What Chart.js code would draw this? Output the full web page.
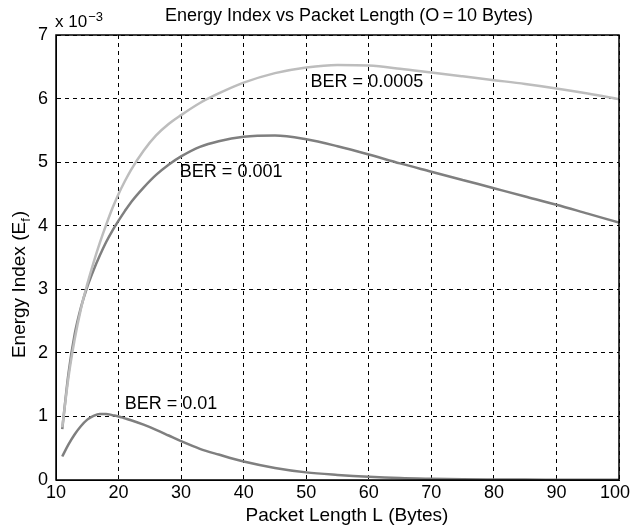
<!DOCTYPE html>
<html>
<head>
<meta charset="utf-8">
<script src="https://cdn.jsdelivr.net/npm/chart.js@4/dist/chart.umd.min.js"></script>
<style>
  html, body { margin: 0; padding: 0; background: #fff; }
  #wrap { width: 630px; height: 530px; }
</style>
</head>
<body>
<div id="wrap"><canvas id="energyChart"></canvas></div>
<script>
const lengths = [11,12,13,14,15,16,17,18,19,20,21,22,24,26,28,30,33,36,40,45,50,55,60,65,70,75,80,85,90,95,100];

// energy index values, in units of 1e-3
const ber0005 = [0.83,1.62,2.22,2.7,3.08,3.42,3.73,4.01,4.27,4.5,4.7,4.88,5.18,5.42,5.6,5.74,5.93,6.08,6.25,6.4,6.49,6.53,6.52,6.47,6.41,6.35,6.29,6.23,6.16,6.08,5.99];
const ber001 = [0.8,1.68,2.3,2.72,3.04,3.3,3.53,3.74,3.92,4.08,4.23,4.37,4.6,4.8,4.96,5.09,5.24,5.33,5.4,5.42,5.36,5.25,5.12,4.98,4.85,4.72,4.59,4.46,4.33,4.19,4.05];
const ber01 = [0.37,0.56,0.72,0.85,0.95,1.01,1.04,1.04,1.02,1.0,0.97,0.94,0.87,0.79,0.7,0.61,0.49,0.4,0.29,0.19,0.12,0.08,0.05,0.03,0.02,0.013,0.009,0.006,0.004,0.003,0.002];

const xTicks = [10,20,30,40,50,60,70,80,90,100];
const yTicks = [0,1,2,3,4,5,6,7];

const seriesNames = ['BER = 0.0005', 'BER = 0.001', 'BER = 0.01'];

const FONT = '"Liberation Sans", Arial, sans-serif';

toPoints = (ys) => lengths.map((x, i) => ({x: x, y: ys[i]}));

// text labels sitting next to each curve (data coords)
var curveLabels = [
    {text: seriesNames[0], x: 50.7, y: 6.26},
    {text: seriesNames[1], x: 29.8, y: 4.84},
    {text: seriesNames[2], x: 21.0, y: 1.19}
];

// draws the matlab-ish box, titles, x tick labels and curve labels
var decorPlugin = {
    id: 'decor',
    afterDraw(chart) {
        const ctx = chart.ctx;
        const a = chart.chartArea;
        const xs = chart.scales.x, ys = chart.scales.y;
        ctx.save();

        // box round the axes
        ctx.strokeStyle = '#000';
        ctx.lineWidth = 1.5;
        ctx.strokeRect(a.left, a.top, a.right - a.left, a.bottom - a.top);

        ctx.fillStyle = '#000';

        // x tick labels - drawn here so "100" isn't cut off by the canvas edge
        ctx.font = '18px ' + FONT;
        ctx.textAlign = 'left';
        ctx.textBaseline = 'top';
        xs.ticks.forEach(t => {
            var txt = String(t.value);
            var tw = ctx.measureText(txt).width;
            var px = xs.getPixelForValue(t.value) - tw / 2;
            px = Math.min(px, chart.width - tw);
            ctx.fillText(txt, px, a.bottom + 4);
        });

        ctx.textBaseline = 'middle';

        // curve labels
        ctx.font = '18px ' + FONT;
        curveLabels.forEach(l => {
            ctx.fillText(l.text, xs.getPixelForValue(l.x), ys.getPixelForValue(l.y));
        });

        // title
        ctx.textAlign = 'center';
        ctx.font = '18px ' + FONT;
        ctx.fillText('Energy Index vs Packet Length (O\u2009=\u200910 Bytes)', 349, 16);

        // x axis title
        ctx.font = '19px ' + FONT;
        ctx.fillText('Packet Length L (Bytes)', 347, 516);

        // exponent "x 10^-3"
        ctx.textAlign = 'left';
        ctx.textBaseline = 'alphabetic';
        ctx.font = '17px ' + FONT;
        ctx.fillText('x 10', 55, 27);
        var w = ctx.measureText('x 10').width;
        ctx.font = '13px ' + FONT;
        ctx.fillText('\u22123', 55 + w + 1, 21);

        // y axis title with subscript f
        ctx.textBaseline = 'middle';
        ctx.translate(20, 285);
        ctx.rotate(-Math.PI / 2);
        var main = 'Energy Index (E';
        ctx.font = '19px ' + FONT;
        var w1 = ctx.measureText(main).width;
        ctx.font = '13px ' + FONT;
        var w2 = ctx.measureText('f').width;
        ctx.font = '19px ' + FONT;
        var w3 = ctx.measureText(')').width;
        var start = -(w1 + w2 + w3) / 2;
        ctx.fillText(main, start, 0);
        ctx.font = '13px ' + FONT;
        ctx.fillText('f', start + w1, 6);
        ctx.font = '19px ' + FONT;
        ctx.fillText(')', start + w1 + w2 + 1, 0);

        ctx.restore();
    }
};

var lineStyle = (color) => ({
    borderColor: color,
    backgroundColor: color,
    borderWidth: 2.5,
    pointRadius: 0,
    cubicInterpolationMode: 'monotone',
    fill: false
});

var chart = new Chart(document.getElementById('energyChart'), {
    type: 'line',
    data: {
        datasets: [
            Object.assign({label: seriesNames[0], data: toPoints(ber0005)}, lineStyle('#bdbdbd')),
            Object.assign({label: seriesNames[1], data: toPoints(ber001)}, lineStyle('#7f7f7f')),
            Object.assign({label: seriesNames[2], data: toPoints(ber01)}, lineStyle('#7f7f7f'))
        ]
    },
    options: {
        responsive: true,
        maintainAspectRatio: false,
        animation: false,
        layout: { padding: { left: 0, right: 11, top: 35, bottom: 0 } },
        plugins: {
            legend: { display: false },
            tooltip: { enabled: false },
            title: { display: false }
        },
        scales: {
            x: {
                type: 'linear',
                min: 10,
                max: 100,
                afterBuildTicks: (scale) => { scale.ticks = xTicks.map(v => ({value: v})); },
                afterFit: (scale) => {
                    scale.height = 50;
                    scale.paddingRight = 0;
                    scale.paddingLeft = 0;
                },
                ticks: { display: false },
                grid: {
                    color: '#000',
                    lineWidth: 1,
                    drawTicks: false
                },
                border: { display: true, color: '#000', dash: [4, 4], width: 1 }
            },
            y: {
                min: 0,
                max: 7,
                afterBuildTicks: (scale) => { scale.ticks = yTicks.map(v => ({value: v})); },
                afterFit: (scale) => { scale.width = 56; },
                ticks: {
                    color: '#000',
                    font: { family: FONT, size: 18 },
                    padding: 8
                },
                grid: {
                    color: '#000',
                    lineWidth: 1,
                    drawTicks: false
                },
                border: { display: true, color: '#000', dash: [4, 4], width: 1 }
            }
        }
    },
    plugins: [decorPlugin]
});
</script>
</body>
</html>
